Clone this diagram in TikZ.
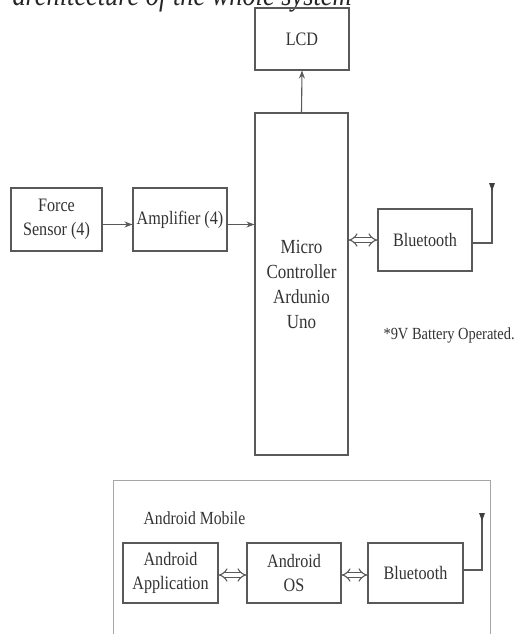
\documentclass[tikz,border=0pt]{standalone}
\usepackage{fontspec}
\setmainfont[FakeStretch=0.85]{Liberation Serif}
\usetikzlibrary{arrows.meta}

\begin{document}
\begin{tikzpicture}[x=1pt,y=-1pt,
  blk/.style={draw=black!65, line width=1.1pt, minimum width=94pt, minimum height=62pt, align=center, inner sep=1pt, text=black!80, font=\fontsize{19}{24}\selectfont},
  arr/.style={draw=black!65, line width=1.1pt, -{Stealth[length=8pt,width=6pt]}},
  dbl/.style={draw=black!65, double, double distance=3.5pt, line width=1.1pt, {Implies[scale=1.4]}-{Implies[scale=1.4]}},
  wire/.style={draw=black!65, line width=1.1pt}]
\useasboundingbox (0,0) rectangle (522,634);
\node[anchor=base west, text=black!85, font=\fontsize{31}{31}\selectfont\itshape] (title) at (9,6) {architecture of the whole system};
% upper unit
\node[blk] (lcd) at (302,39) {LCD};
\node[blk, minimum width=93pt, minimum height=342pt, font=\fontsize{20}{25}\selectfont] (mcu) at (301.5,284) {Micro\\Controller\\Ardunio\\Uno};
\node[blk, minimum width=91pt, minimum height=63pt] (force) at (56.5,219.5) {Force\\Sensor (4)};
\node[blk, minimum height=63pt] (amp) at (180,219.5) {Amplifier (4)};
\node[blk] (bt) at (425,240) {Bluetooth};
\node[anchor=west, text=black!80, font=\fontsize{17}{20}\selectfont] (batt) at (380,335) {*9V Battery Operated.};
\draw[arr] ([yshift=-5pt]force.east) -- ([yshift=-5pt]amp.west);
\draw[arr] ([yshift=-5pt]amp.east) -- ([yshift=-5pt]amp.east -| mcu.west);
\draw[arr] (mcu.north) -- (lcd.south);
\draw[dbl] (bt.west -| mcu.east) -- (bt.west);
\coordinate (ant1) at (492,187);
\draw[wire] ([yshift=-3pt]bt.east) -| (ant1);
\fill[black!75] (ant1) ++(-3,-4) -- ++(6,0) -- ++(-3,8) -- cycle;
% mobile side
\draw[black!35, line width=0.7pt] (113,640) |- (490,480) -- (490,640);
\node[anchor=west, text=black!80, font=\fontsize{18.5}{22}\selectfont] (mobile) at (140,518) {Android Mobile};
\node[blk, minimum width=95pt, minimum height=60pt] (app) at (170.5,573) {Android\\Application};
\node[blk, minimum height=60pt] (os) at (294,573) {Android\\OS};
\node[blk, minimum width=95pt, minimum height=60pt] (bt2) at (415.5,573) {Bluetooth};
\draw[dbl] ([yshift=-2pt]app.east) -- ([yshift=-2pt]os.west);
\draw[dbl] ([yshift=-2pt]os.east) -- ([yshift=-2pt]bt2.west);
\coordinate (ant2) at (482,517);
\draw[wire] ([yshift=3pt]bt2.east) -| (ant2);
\fill[black!75] (ant2) ++(-3,-4) -- ++(6,0) -- ++(-3,8) -- cycle;
\end{tikzpicture}
\end{document}
